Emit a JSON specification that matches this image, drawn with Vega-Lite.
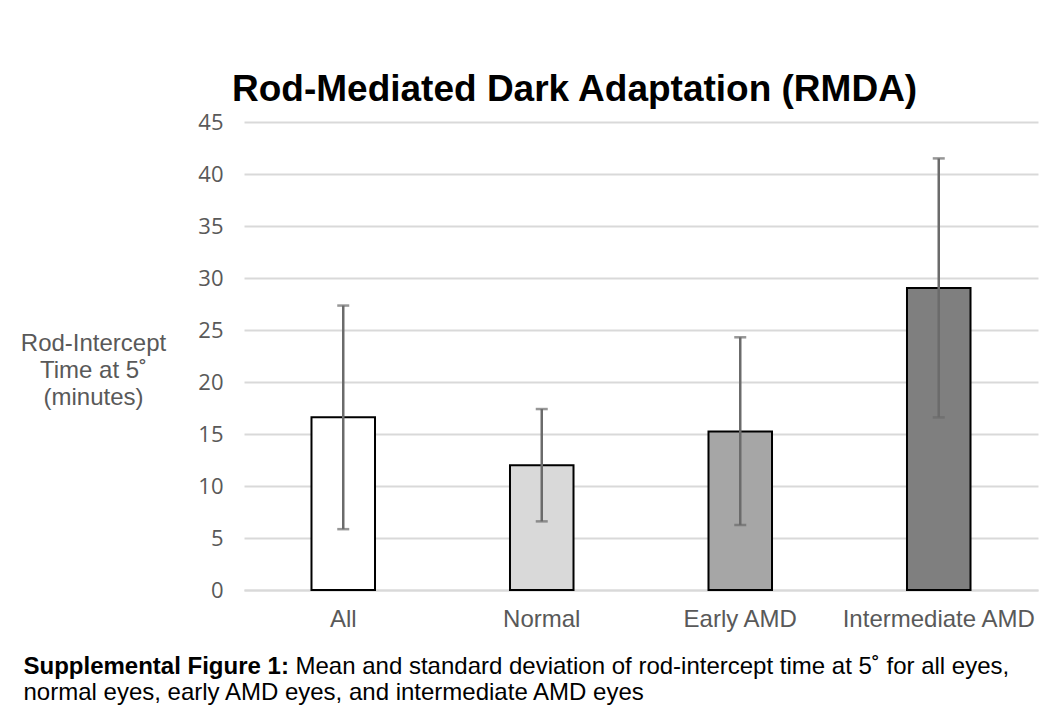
{
  "$schema": "https://vega.github.io/schema/vega-lite/v6.json",
  "autosize": "none",
  "width": 794,
  "height": 468,
  "padding": {"left": 244, "top": 122, "right": 21, "bottom": 127},
  "background": "#ffffff",
  "title": {
    "text": "Rod-Mediated Dark Adaptation (RMDA)",
    "font": "Liberation Sans",
    "fontSize": 37,
    "fontWeight": "bold",
    "color": "#000000",
    "anchor": "start",
    "frame": "group",
    "dx": -12,
    "offset": 2
  },
  "data": {
    "values": [
      {"group": "All", "mean": 16.6, "low": 5.85, "high": 27.35},
      {"group": "Normal", "mean": 12.0, "low": 6.6, "high": 17.4},
      {"group": "Early AMD", "mean": 15.25, "low": 6.25, "high": 24.3},
      {"group": "Intermediate AMD", "mean": 29.05, "low": 16.6, "high": 41.5}
    ]
  },
  "resolve": {"axis": {"x": "independent"}},
  "layer": [
    {
      "mark": {"type": "bar", "stroke": "#000000", "strokeWidth": 2},
      "encoding": {
        "x": {
          "field": "group", "type": "nominal", "sort": null,
          "scale": {"paddingInner": 0.68, "paddingOuter": 0.34},
          "axis": {
            "orient": "bottom",
            "labelAngle": 0,
            "labelFont": "Liberation Sans",
            "labelFontSize": 24,
            "labelColor": "#595959",
            "labelPadding": 17,
            "labelLimit": 0,
            "ticks": false,
            "grid": false,
            "domain": true,
            "domainColor": "#d9d9d9",
            "domainWidth": 2,
            "title": "Supplemental Figure 1:",
            "titleFont": "Liberation Sans",
            "titleFontSize": 24,
            "titleFontWeight": "bold",
            "titleColor": "#000000",
            "titleX": -221,
            "titleY": 83,
            "titleAlign": "left",
            "titleBaseline": "alphabetic"
          }
        },
        "y": {
          "field": "mean", "type": "quantitative",
          "scale": {"domain": [0, 45]},
          "axis": {"title": ["Rod-Intercept", "Time at 5˚", "(minutes)"]}
        },
        "color": {
          "field": "group", "type": "nominal", "sort": null,
          "scale": {"domain": ["All", "Normal", "Early AMD", "Intermediate AMD"], "range": ["#ffffff", "#d9d9d9", "#a6a6a6", "#7f7f7f"]},
          "legend": null
        }
      }
    },
    {
      "mark": {"type": "rule", "color": "#6b6b6b", "strokeWidth": 2.5},
      "encoding": {
        "x": {
          "field": "group", "type": "nominal", "sort": null,
          "axis": {
            "orient": "bottom",
            "labels": false, "ticks": false, "domain": false, "grid": false,
            "title": "Mean and standard deviation of rod-intercept time at 5˚ for all eyes,",
            "titleFont": "Liberation Sans",
            "titleFontSize": 24,
            "titleFontWeight": "normal",
            "titleColor": "#000000",
            "titleX": 51,
            "titleY": 83,
            "titleAlign": "left",
            "titleBaseline": "alphabetic"
          }
        },
        "y": {"field": "low", "type": "quantitative", "axis": {"title": ["Rod-Intercept", "Time at 5˚", "(minutes)"]}},
        "y2": {"field": "high"}
      }
    },
    {
      "mark": {"type": "tick", "color": "#6b6b6b", "thickness": 2.5, "size": 12},
      "encoding": {
        "x": {
          "field": "group", "type": "nominal", "sort": null,
          "axis": {
            "orient": "bottom",
            "labels": false, "ticks": false, "domain": false, "grid": false,
            "title": "normal eyes, early AMD eyes, and intermediate AMD eyes",
            "titleFont": "Liberation Sans",
            "titleFontSize": 24,
            "titleFontWeight": "normal",
            "titleColor": "#000000",
            "titleX": -221,
            "titleY": 109,
            "titleAlign": "left",
            "titleBaseline": "alphabetic"
          }
        },
        "y": {"field": "low", "type": "quantitative", "axis": {"title": ["Rod-Intercept", "Time at 5˚", "(minutes)"]}}
      }
    },
    {
      "mark": {"type": "tick", "color": "#6b6b6b", "thickness": 2.5, "size": 12},
      "encoding": {
        "x": {"field": "group", "type": "nominal", "sort": null, "axis": null},
        "y": {"field": "high", "type": "quantitative", "axis": {"title": ["Rod-Intercept", "Time at 5˚", "(minutes)"]}}
      }
    }
  ],
  "config": {
    "view": {"stroke": null},
    "axisY": {
      "values": [0, 5, 10, 15, 20, 25, 30, 35, 40, 45],
      "grid": true,
      "gridColor": "#d9d9d9",
      "gridWidth": 2,
      "domain": false,
      "ticks": false,
      "labelFont": "Open Sans",
      "labelFontSize": 22,
      "labelColor": "#595959",
      "labelPadding": 21,
      "titleAngle": 0,
      "titleX": -151,
      "titleY": 221,
      "titleAlign": "center",
      "titleBaseline": "middle",
      "titleFont": "Liberation Sans",
      "titleFontSize": 24,
      "titleFontWeight": "normal",
      "titleColor": "#595959",
      "titleLineHeight": 27
    }
  }
}
